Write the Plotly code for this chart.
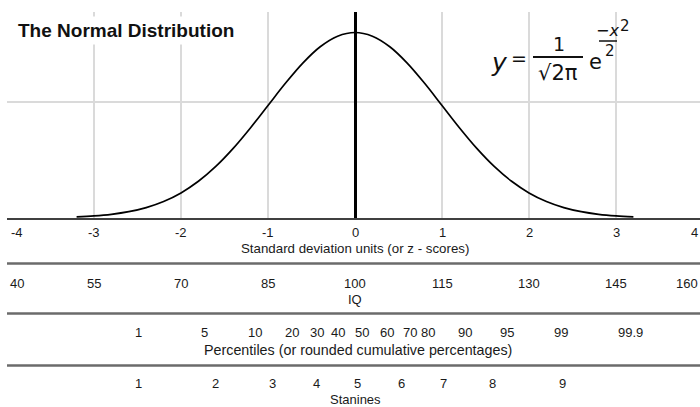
import plotly.graph_objects as go

# ---------------- data ----------------
z_ticks = [-4, -3, -2, -1, 0, 1, 2, 3, 4]
iq_labels = [40, 55, 70, 85, 100, 115, 130, 145, 160]
pct_labels = ["1", "5", "10", "20", "30", "40", "50", "60", "70", "80", "90", "95", "99", "99.9"]
pct_z = [-2.49, -1.73, -1.15, -0.72, -0.44, -0.19, 0.08, 0.37, 0.63, 0.84, 1.26, 1.75, 2.37, 3.17]
stanine_labels = [1, 2, 3, 4, 5, 6, 7, 8, 9]
stanine_z = [-2.49, -1.60, -0.95, -0.44, 0.03, 0.54, 1.02, 1.58, 2.38]

curve_z = [-3.2, -3.0, -2.8, -2.6, -2.4, -2.2, -2.0, -1.8, -1.6, -1.4, -1.2, -1.0, -0.8, -0.6, -0.4, -0.2,
           0.0, 0.2, 0.4, 0.6, 0.8, 1.0, 1.2, 1.4, 1.6, 1.8, 2.0, 2.2, 2.4, 2.6, 2.8, 3.0, 3.2]
curve_y = [0.0024, 0.0044, 0.0079, 0.0136, 0.0224, 0.0355, 0.0540, 0.0790, 0.1109, 0.1497, 0.1942,
           0.2420, 0.2897, 0.3332, 0.3683, 0.3910, 0.3989, 0.3910, 0.3683, 0.3332, 0.2897, 0.2420,
           0.1942, 0.1497, 0.1109, 0.0790, 0.0540, 0.0355, 0.0224, 0.0136, 0.0079, 0.0044, 0.0024]

# ---------------- layout helpers ----------------
W, H = 700, 407
L, T = 7, 12
BOTTOM = 218          # pixel row of the baseline
PX_PER_Z = 87.0
PX_PER_Y = 465.0
PLOT_W = W - L
PLOT_H = BOTTOM - T
XMIN, XMAX = -4, -4 + PLOT_W / PX_PER_Z

def yp(px):
    return (BOTTOM - px) / PLOT_H

def xp(px):
    return (px - L) / PLOT_W

FONT = "Liberation Sans, Arial, Helvetica, sans-serif"
TXT = "#1a1a1a"

fig = go.Figure()
fig.add_trace(go.Scatter(x=curve_z, y=curve_y, mode="lines", line=dict(color="black", width=1.7, shape="spline"),
                         hoverinfo="skip", showlegend=False))

ann = []

def label(x, ypx, text, size=13, xshift=0, xanchor="center"):
    ann.append(dict(x=x, y=yp(ypx), xref="x", yref="paper", text=text, showarrow=False,
                    font=dict(family=FONT, size=size, color=TXT), xanchor=xanchor, yanchor="middle",
                    xshift=xshift))

def scale_label(z, ypx, text):
    if z <= XMIN:
        label(XMIN, ypx, text, xshift=10)
    elif z >= XMAX:
        label(XMAX, ypx, text, xanchor="right")
    else:
        label(z, ypx, text)

for z in z_ticks:
    scale_label(z, 232, str(z))
label(0, 248, "Standard deviation units (or z - scores)", size=13.3)

for iq in iq_labels:
    scale_label((iq - 100) / 15, 283, str(iq))
label(0, 299, "IQ", size=13)

for t, z in zip(pct_labels, pct_z):
    scale_label(z, 332, t)
label(0.04, 350, "Percentiles (or rounded cumulative percentages)", size=14.3)

for s, z in zip(stanine_labels, stanine_z):
    scale_label(z, 383, str(s))
label(0, 399, "Stanines", size=13)

# title
ann.append(dict(x=xp(14), y=yp(31), xref="paper", yref="paper", text="<b>The Normal Distribution</b>",
                showarrow=False, xanchor="left", yanchor="middle", bgcolor="white", borderpad=3,
                font=dict(family=FONT, size=19, color="#111")))

# formula
FF = "DejaVu Sans, sans-serif"
def f_ann(px, py, text, size):
    ann.append(dict(x=xp(px), y=yp(py), xref="paper", yref="paper", text=text, showarrow=False,
                    xanchor="center", yanchor="middle", font=dict(family=FF, size=size, color="#111")))

f_ann(499, 62, "<i>y</i>", 25)
f_ann(519, 58, "=", 19)
f_ann(559, 44, "1", 19)
f_ann(558, 73, "√2π", 21)
f_ann(595, 62, "e", 21)
f_ann(607, 31, "−<i>x</i>", 16)
f_ann(625, 26, "2", 15)
f_ann(610, 51, "2", 15)

shapes = []
def hline(x0, x1, ypx, color, width):
    shapes.append(dict(type="line", xref="paper", yref="paper", x0=x0, x1=x1, y0=yp(ypx), y1=yp(ypx),
                       line=dict(color=color, width=width), layer="above"))

hline(xp(533), xp(583), 57, "#111", 1.8)
hline(xp(599), xp(617), 41, "#111", 1.5)

for ypx in (263.5, 313.5, 365.5):
    hline(0, 1, ypx, "#6b6b6b", 2.5)

fig.update_layout(
    width=W, height=H,
    margin=dict(l=L, r=0, t=T, b=H - BOTTOM),
    paper_bgcolor="white", plot_bgcolor="white",
    xaxis=dict(range=[XMIN, XMAX], tickvals=[-3, -2, -1, 1, 2, 3], showticklabels=False,
               showgrid=True, gridcolor="#dadada", gridwidth=1.5,
               zeroline=True, zerolinecolor="black", zerolinewidth=3,
               showline=True, linecolor="#404040", linewidth=1.5, ticks=""),
    yaxis=dict(range=[0, PLOT_H / PX_PER_Y], tickvals=[0.25], showticklabels=False,
               showgrid=True, gridcolor="#dadada", gridwidth=1.5, zeroline=False, showline=False, ticks=""),
    annotations=ann, shapes=shapes, showlegend=False,
)

fig.write_html("out.html", config={"displayModeBar": False},
               post_script="document.body.style.margin='0';document.body.style.overflow='hidden';")
